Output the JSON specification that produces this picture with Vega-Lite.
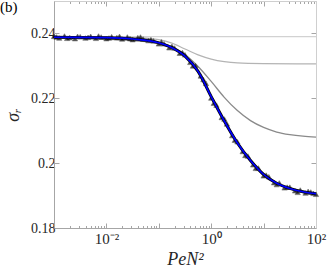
{
  "$schema": "https://vega.github.io/schema/vega-lite/v6.json",
  "width": 262,
  "height": 227,
  "autosize": "none",
  "padding": {"left": 54, "top": 1, "right": 11, "bottom": 44},
  "background": "white",
  "config": {
    "font": "Times New Roman, Liberation Serif, serif",
    "view": {"stroke": null},
    "axis": {"grid": false, "domainColor": "#a6a6a6", "tickColor": "#a6a6a6", "labelColor": "#262626", "labelFont": "Times New Roman, Liberation Serif, serif", "labelFontSize": 14, "titleFont": "Times New Roman, Liberation Serif, serif", "titleColor": "#262626", "titleFontWeight": "normal"}
  },
  "title": {"text": "(b)", "anchor": "start", "frame": "group", "orient": "top", "dx": -54, "dy": 14, "offset": 0, "font": "Times New Roman, Liberation Serif, serif", "fontSize": 15, "fontWeight": "normal", "color": "#000000"},
  "datasets": {
    "curves": [
      {"series": "a", "x": 0.001, "y": 0.2390},
      {"series": "a", "x": 100, "y": 0.2390},
      {"series": "b", "x": 0.001, "y": 0.2389},
      {"series": "b", "x": 0.03162, "y": 0.2387},
      {"series": "b", "x": 0.1, "y": 0.2381},
      {"series": "b", "x": 0.1778, "y": 0.2370},
      {"series": "b", "x": 0.3162, "y": 0.2352},
      {"series": "b", "x": 0.5623, "y": 0.2334},
      {"series": "b", "x": 1, "y": 0.2321},
      {"series": "b", "x": 1.778, "y": 0.2313},
      {"series": "b", "x": 3.162, "y": 0.2309},
      {"series": "b", "x": 10, "y": 0.2307},
      {"series": "b", "x": 100, "y": 0.2306},
      {"series": "c", "x": 0.001, "y": 0.2388},
      {"series": "c", "x": 0.1, "y": 0.2371},
      {"series": "c", "x": 0.3162, "y": 0.2335},
      {"series": "c", "x": 0.5623, "y": 0.2298},
      {"series": "c", "x": 1, "y": 0.2252},
      {"series": "c", "x": 1.778, "y": 0.2203},
      {"series": "c", "x": 3.162, "y": 0.2162},
      {"series": "c", "x": 5.623, "y": 0.2131},
      {"series": "c", "x": 10, "y": 0.2110},
      {"series": "c", "x": 17.78, "y": 0.2096},
      {"series": "c", "x": 31.62, "y": 0.2088},
      {"series": "c", "x": 56.23, "y": 0.2083},
      {"series": "c", "x": 100, "y": 0.2080},
      {"series": "d", "x": 0.001, "y": 0.2388},
      {"series": "d", "x": 0.01, "y": 0.2387},
      {"series": "d", "x": 0.03162, "y": 0.2383},
      {"series": "d", "x": 0.1, "y": 0.2371},
      {"series": "d", "x": 0.1778, "y": 0.2356},
      {"series": "d", "x": 0.3162, "y": 0.2330},
      {"series": "d", "x": 0.5623, "y": 0.2283},
      {"series": "d", "x": 1, "y": 0.2205},
      {"series": "d", "x": 1.778, "y": 0.2130},
      {"series": "d", "x": 3.162, "y": 0.2062},
      {"series": "d", "x": 5.623, "y": 0.2008},
      {"series": "d", "x": 10, "y": 0.1965},
      {"series": "d", "x": 17.78, "y": 0.1938},
      {"series": "d", "x": 31.62, "y": 0.1922},
      {"series": "d", "x": 56.23, "y": 0.1912},
      {"series": "d", "x": 100, "y": 0.1906}
    ],
    "pts": [
      {"x": 0.001, "y": 0.2391}, {"x": 0.001259, "y": 0.2386}, {"x": 0.001585, "y": 0.2392},
      {"x": 0.001995, "y": 0.2387}, {"x": 0.002512, "y": 0.2384}, {"x": 0.003162, "y": 0.2390},
      {"x": 0.003981, "y": 0.2386}, {"x": 0.005012, "y": 0.2391}, {"x": 0.00631, "y": 0.2385},
      {"x": 0.007943, "y": 0.2389}, {"x": 0.01, "y": 0.2384}, {"x": 0.01259, "y": 0.2390},
      {"x": 0.01585, "y": 0.2387}, {"x": 0.01995, "y": 0.2383}, {"x": 0.02512, "y": 0.2389},
      {"x": 0.03162, "y": 0.2381}, {"x": 0.03981, "y": 0.2387}, {"x": 0.05012, "y": 0.2383},
      {"x": 0.0631, "y": 0.2378}, {"x": 0.07943, "y": 0.2377}, {"x": 0.1, "y": 0.2368},
      {"x": 0.1259, "y": 0.2368}, {"x": 0.1585, "y": 0.2356}, {"x": 0.1995, "y": 0.2355},
      {"x": 0.2512, "y": 0.2339}, {"x": 0.3162, "y": 0.2334}, {"x": 0.3981, "y": 0.2311},
      {"x": 0.5012, "y": 0.2301}, {"x": 0.631, "y": 0.2269}, {"x": 0.7943, "y": 0.2246},
      {"x": 1, "y": 0.2201}, {"x": 1.259, "y": 0.2179}, {"x": 1.585, "y": 0.2141},
      {"x": 1.995, "y": 0.2121}, {"x": 2.512, "y": 0.2085}, {"x": 3.162, "y": 0.2066},
      {"x": 3.981, "y": 0.2036}, {"x": 5.012, "y": 0.2022}, {"x": 6.31, "y": 0.1995},
      {"x": 7.943, "y": 0.1985}, {"x": 10, "y": 0.1961}, {"x": 12.59, "y": 0.1958},
      {"x": 15.85, "y": 0.1940}, {"x": 19.95, "y": 0.1939}, {"x": 25.12, "y": 0.1924},
      {"x": 31.62, "y": 0.1926}, {"x": 39.81, "y": 0.1915}, {"x": 50.12, "y": 0.1917},
      {"x": 63.1, "y": 0.1908}, {"x": 79.43, "y": 0.1911}, {"x": 100, "y": 0.1904},
      {"x": 0.00112, "y": 0.2389}, {"x": 0.00178, "y": 0.2385}, {"x": 0.00282, "y": 0.2391},
      {"x": 0.00447, "y": 0.2388}, {"x": 0.00708, "y": 0.2392}, {"x": 0.0112, "y": 0.2386},
      {"x": 0.0178, "y": 0.2391}, {"x": 0.0282, "y": 0.2384}, {"x": 0.0447, "y": 0.2389},
      {"x": 0.0708, "y": 0.2381}, {"x": 0.112, "y": 0.2374}, {"x": 0.178, "y": 0.2360},
      {"x": 0.282, "y": 0.2341}, {"x": 0.447, "y": 0.2300}, {"x": 0.708, "y": 0.2258},
      {"x": 1.12, "y": 0.2185}, {"x": 1.78, "y": 0.2136}, {"x": 2.82, "y": 0.2071},
      {"x": 4.47, "y": 0.2024}, {"x": 7.08, "y": 0.1984}, {"x": 11.2, "y": 0.1963},
      {"x": 17.8, "y": 0.1934}, {"x": 28.2, "y": 0.1926}, {"x": 44.7, "y": 0.1910},
      {"x": 70.8, "y": 0.1913}, {"x": 89.1, "y": 0.1907}
    ]
  },
  "layer": [
    {
      "data": {"name": "curves"},
      "transform": [{"filter": "datum.series != 'd'"}],
      "mark": {"type": "line", "strokeWidth": 1.3, "interpolate": "monotone"},
      "encoding": {
        "x": {"field": "x", "type": "quantitative", "scale": {"type": "log", "domain": [0.001, 100], "nice": false},
          "axis": {"orient": "bottom", "title": "PeN²", "titleFontSize": 18, "titleFontStyle": "italic", "titlePadding": 2,
            "values": [0.001,0.002,0.003,0.004,0.005,0.006,0.007,0.008,0.009,0.01,0.02,0.03,0.04,0.05,0.06,0.07,0.08,0.09,0.1,0.2,0.3,0.4,0.5,0.6,0.7,0.8,0.9,1,2,3,4,5,6,7,8,9,10,20,30,40,50,60,70,80,90,100],
            "labelExpr": "datum.value == 0.01 ? '10⁻²' : datum.value == 1 ? '10⁰' : datum.value == 100 ? '10²' : ''",
            "labelOverlap": false, "labelFlush": false, "labelPadding": 8, "labelFontSize": 15,
            "tickSize": {"condition": {"test": "abs(log(datum.value)/LN10 - round(log(datum.value)/LN10)) < 0.001", "value": -5}, "value": -2.5}}},
        "y": {"field": "y", "type": "quantitative", "scale": {"domain": [0.18, 0.25], "nice": false, "zero": false},
          "axis": {"orient": "left", "title": "σᵣ", "titleFontSize": 18, "titleFontStyle": "italic", "titlePadding": 8,
            "values": [0.18, 0.2, 0.22, 0.24], "format": ".2~f", "tickSize": -5, "labelPadding": 4}},
        "color": {"field": "series", "type": "nominal", "scale": {"domain": ["a", "b", "c"], "range": ["#d2d2d2", "#b4b4b4", "#8a8a8a"]}, "legend": null}
      }
    },
    {
      "data": {"name": "curves"},
      "transform": [{"filter": "datum.series == 'd'"}],
      "mark": {"type": "line", "strokeWidth": 3, "color": "#000000", "interpolate": "monotone"},
      "encoding": {
        "x": {"field": "x", "type": "quantitative",
          "axis": {"orient": "top", "title": null, "labels": false, "domainColor": "#cfcfcf",
            "values": [0.001,0.002,0.003,0.004,0.005,0.006,0.007,0.008,0.009,0.01,0.02,0.03,0.04,0.05,0.06,0.07,0.08,0.09,0.1,0.2,0.3,0.4,0.5,0.6,0.7,0.8,0.9,1,2,3,4,5,6,7,8,9,10,20,30,40,50,60,70,80,90,100],
            "tickSize": {"condition": {"test": "abs(log(datum.value)/LN10 - round(log(datum.value)/LN10)) < 0.001", "value": -5}, "value": -2.5}}},
        "y": {"field": "y", "type": "quantitative",
          "axis": {"orient": "right", "title": null, "labels": false, "domainColor": "#cfcfcf", "values": [0.18, 0.2, 0.22, 0.24], "tickSize": -5}}
      }
    },
    {
      "data": {"name": "pts"},
      "mark": {"type": "point", "shape": "triangle-up", "filled": true, "size": 28, "color": "#000000", "stroke": "#333333", "strokeWidth": 0.6},
      "encoding": {
        "x": {"field": "x", "type": "quantitative", "axis": null},
        "y": {"field": "y", "type": "quantitative", "axis": null}
      }
    },
    {
      "data": {"name": "curves"},
      "transform": [{"filter": "datum.series == 'd'"}],
      "mark": {"type": "line", "strokeWidth": 1.6, "color": "#0000ff", "interpolate": "monotone"},
      "encoding": {
        "x": {"field": "x", "type": "quantitative", "axis": null},
        "y": {"field": "y", "type": "quantitative", "axis": null}
      }
    }
  ]
}
